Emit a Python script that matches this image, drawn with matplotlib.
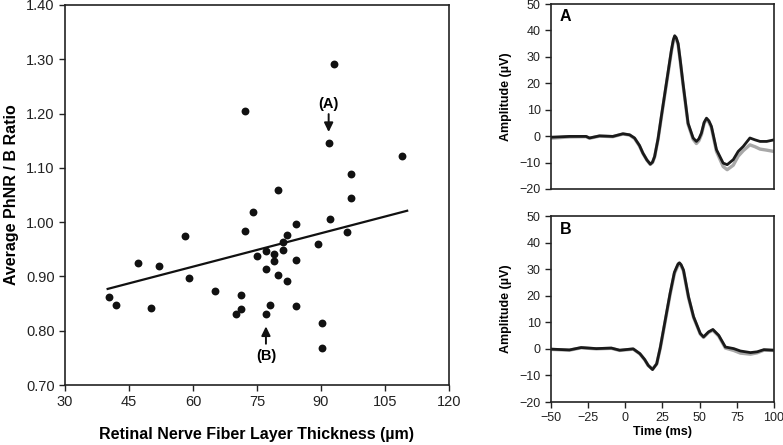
import numpy as np
import matplotlib.pyplot as plt

plt.rcParams["font.family"] = ["Liberation Sans", "DejaVu Sans"]

# scatter: RNFL thickness vs PhNR/B ratio
rnfl = [72.2, 93.0, 91.8, 109.1, 97.0, 80.0, 97.0, 74.1, 92.1, 84.1,
        72.2, 96.2, 58.1, 82.1, 81.0, 89.2, 81.0, 77.1, 79.05, 75.1,
        84.1, 79.05, 47.2, 52.0, 77.1, 80.0, 59.1, 82.1, 65.1, 71.2,
        40.2, 78.0, 42.0, 84.1, 50.1, 71.2, 70.1, 77.1, 90.2, 90.2]
ratio = [1.205, 1.291, 1.145, 1.122, 1.089, 1.059, 1.044, 1.018, 1.005, 0.996,
         0.984, 0.981, 0.975, 0.976, 0.964, 0.959, 0.949, 0.946, 0.941, 0.938,
         0.931, 0.928, 0.924, 0.920, 0.914, 0.902, 0.897, 0.891, 0.873, 0.865,
         0.863, 0.848, 0.847, 0.846, 0.842, 0.840, 0.830, 0.830, 0.814, 0.769]
fit_x = [40.0, 110.2]
fit_y = [0.877, 1.021]

# waveform A
t_a = [-50, -37.6, -26.4, -24.1, -17.4, -8.4, -1.6, 2.9, 6.2, 9.5,
       11.8, 14.5, 16.8, 18.3, 19.7, 22.0, 24.2, 27.6, 31.0, 32.3,
       33.2, 34.2, 35.5, 37.0, 38.8, 42.2, 45.6, 47.8, 49.5, 51.2,
       53.0, 54.6, 56.2, 57.9, 61.3, 65.8, 68.5, 72.6, 75.9, 79.3,
       83.8, 87.2, 90.6, 95.1, 100]
amp_a_black = [-0.4, -0.1, -0.1, -0.7, 0.1, -0.1, 0.9, 0.5, -0.7, -3.5,
               -6.4, -9.0, -10.6, -9.8, -7.7, -1.0, 7.4, 20.0, 32.6, 36.5,
               38.0, 37.3, 35.1, 28.5, 20.0, 4.9, -0.7, -2.0, -1.0, 1.2,
               5.2, 6.8, 5.8, 3.7, -5.1, -10.2, -10.8, -8.9, -5.8, -3.9,
               -0.7, -1.4, -2.0, -2.0, -1.4]
amp_a_gray = [-0.8, -0.3, -0.2, -0.8, 0.0, -0.2, 0.8, 0.4, -0.9, -3.7,
              -6.5, -9.1, -10.7, -10.0, -7.9, -1.3, 7.0, 19.5, 32.0, 36.0,
              37.5, 36.8, 34.6, 28.0, 19.5, 4.5, -1.2, -2.8, -1.7, 0.6,
              4.8, 6.4, 5.3, 3.2, -5.8, -11.5, -12.7, -11.0, -7.6, -5.5,
              -3.3, -4.0, -4.9, -5.3, -5.8]

# waveform B
t_b = [-50, -37.6, -29.7, -19.5, -9.4, -3.8, 5.3, 9.8, 13.0, 15.4,
       18.3, 21.1, 23.5, 25.6, 30.1, 33.0, 34.6, 35.5, 36.4, 37.5,
       39.1, 42.5, 45.9, 50.4, 52.6, 56.0, 58.9, 62.8, 67.3, 72.9,
       77.4, 84.2, 88.7, 93.2, 100]
amp_b_black = [-0.1, -0.4, 0.5, 0.1, 0.3, -0.5, 0.0, -1.8, -4.0, -6.2,
               -7.8, -5.6, 0.5, 7.0, 20.9, 28.8, 30.9, 32.0, 32.4, 31.7,
               29.7, 19.6, 12.1, 5.8, 4.5, 6.4, 7.3, 5.1, 0.7, 0.1,
               -0.8, -1.4, -1.1, -0.3, -0.5]
amp_b_gray = [-0.2, -0.5, 0.4, 0.0, 0.2, -0.6, -0.1, -1.9, -4.1, -6.3,
              -7.6, -5.7, 0.2, 6.6, 20.4, 28.3, 30.4, 31.6, 32.0, 31.3,
              29.3, 19.2, 11.8, 5.6, 4.3, 6.2, 7.0, 4.8, 0.3, -0.6,
              -1.6, -2.0, -1.5, -0.5, -0.6]

SPINE = "#222222"

fig = plt.figure(figsize=(7.83, 4.45), dpi=100)

# ---- scatter panel
ax = fig.add_axes([0.083, 0.1348, 0.4904, 0.854])
ax.scatter(rnfl, ratio, s=32, color="#111111", zorder=3, linewidths=0)
ax.plot(fit_x, fit_y, color="#111111", lw=1.6)
ax.set_xlim(30, 120)
ax.set_ylim(0.70, 1.40)
ax.set_xticks(np.arange(30, 121, 15))
ax.set_yticks(np.arange(0.70, 1.401, 0.10))
ax.set_yticklabels([f"{v:.2f}" for v in np.arange(0.70, 1.401, 0.10)])
ax.tick_params(direction="out", length=4, width=1.0, labelsize=10.5,
               colors=SPINE, labelcolor="#222222")
for sp in ax.spines.values():
    sp.set_color(SPINE)
    sp.set_linewidth(1.2)
ax.set_xlabel("Retinal Nerve Fiber Layer Thickness (\u00b5m)", fontsize=11.5,
              fontweight="bold", labelpad=13)
ax.set_ylabel("Average PhNR / B Ratio", fontsize=11.5, fontweight="bold",
              labelpad=5)

arrow = dict(arrowstyle="-|>,head_length=0.45,head_width=0.22", color="#111111",
             lw=1.4, shrinkA=0, shrinkB=0, mutation_scale=12)
ax.annotate("", xy=(91.8, 1.166), xytext=(91.8, 1.199), arrowprops=arrow)
ax.text(91.8, 1.218, "(A)", ha="center", va="center", fontsize=10.5, fontweight="bold")
ax.annotate("", xy=(77.1, 0.808), xytext=(77.1, 0.776), arrowprops=arrow)
ax.text(77.1, 0.754, "(B)", ha="center", va="center", fontsize=10.5, fontweight="bold")

# ---- waveform panels
def waveform(rect, t, gray, black, letter, show_x):
    a = fig.add_axes(rect)
    a.plot(t, gray, color="#a8a8a8", lw=2.4, solid_joinstyle="round")
    a.plot(t, black, color="#1a1a1a", lw=2.0, solid_joinstyle="round")
    a.set_xlim(-50, 100)
    a.set_ylim(-20, 50)
    a.set_yticks(np.arange(-20, 51, 10))
    a.set_xticks(np.arange(-50, 101, 25))
    a.tick_params(axis="y", direction="out", length=4, width=1.0, labelsize=9,
                  colors=SPINE, labelcolor="#222222")
    if show_x:
        a.tick_params(axis="x", direction="out", length=4, width=1.0, labelsize=9,
                      colors=SPINE, labelcolor="#222222")
        a.set_xlabel("Time (ms)", fontsize=9, fontweight="bold", labelpad=1)
    else:
        a.tick_params(axis="x", length=0, labelbottom=False)
    for sp in a.spines.values():
        sp.set_color(SPINE)
        sp.set_linewidth(1.2)
    a.set_ylabel("Amplitude (\u00b5V)", fontsize=9, fontweight="bold", labelpad=5)
    a.text(0.04, 0.93, letter, transform=a.transAxes, fontsize=11.5,
           fontweight="bold", ha="left", va="center")
    return a

waveform([0.7037, 0.5753, 0.2848, 0.4157], t_a, amp_a_gray, amp_a_black, "A", False)
waveform([0.7037, 0.0966, 0.2848, 0.418], t_b, amp_b_gray, amp_b_black, "B", True)

fig.savefig("out.png", dpi=100)
